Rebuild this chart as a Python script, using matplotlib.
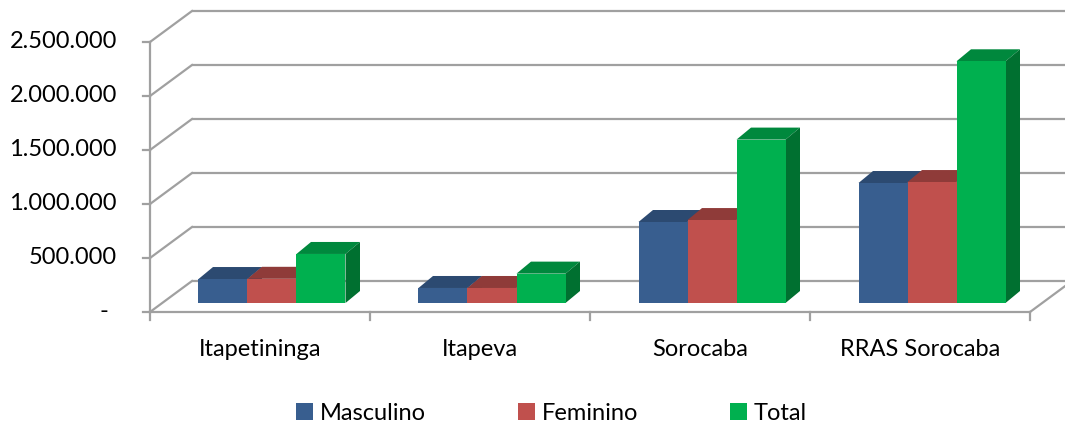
import matplotlib
matplotlib.use("Agg")
import matplotlib.pyplot as plt
from matplotlib.patches import Polygon, Patch

# --- data -------------------------------------------------------------
categories = ["Itapetininga", "Itapeva", "Sorocaba", "RRAS Sorocaba"]
series_names = ["Masculino", "Feminino", "Total"]
masculino = [222000, 139000, 750000, 1111000]
feminino = [224000, 139000, 768000, 1120000]
total = [454000, 272000, 1513000, 2238000]
y_ticks = [0, 500000, 1000000, 1500000, 2000000, 2500000]

series = [masculino, feminino, total]
front_colors = ["#385E8F", "#C0504D", "#00B04F"]
top_colors = ["#2C4A71", "#8F3B39", "#00883D"]
side_colors = ["#284468", "#7E3432", "#007030"]

# --- figure / axes (axes spans whole canvas, data units = categories / values)
W, H = 1065, 426
fig = plt.figure(figsize=(W / 100, H / 100), dpi=100)
ax = fig.add_axes([0, 0, 1, 1])
px_x = 1 / 220.0            # category units per pixel
px_y = 500000 / 54.0        # value units per pixel
ax.set_xlim(-0.5 - 150 * px_x, 3.5 + (W - 1030) * px_x)
ax.set_ylim(-(H - 312) * px_y, 312 * px_y)
ax.axis("off")

FONT = "Lato"
FS = 17
grid_c = "#A0A0A0"
lw = 1.6

# wall depth offset
DX, DY = 42 * px_x, 31 * px_y
x_left, x_right = -0.5, 3.5
ymax = y_ticks[-1]

# back wall gridlines and left wall diagonals
for v in y_ticks:
    ax.plot([x_left + DX, x_right + DX + 0.5], [v + DY, v + DY], color=grid_c, lw=lw,
            solid_capstyle="butt", zorder=1)
    ax.plot([x_left, x_left + DX], [v, v + DY], color=grid_c, lw=lw, zorder=1)
    # y tick marks
    ax.plot([x_left - 7 * px_x, x_left], [v, v], color=grid_c, lw=lw, zorder=1)
    label = "-" if v == 0 else f"{v:,}".replace(",", ".")
    ax.text(x_left - 33 * px_x if v else x_left - 42 * px_x, v, label,
            ha="right", va="center", fontsize=FS, family=FONT, color="#000000")

# left axis (front) and floor front edge / right diagonal
ax.plot([x_left, x_left], [0, ymax], color=grid_c, lw=lw, zorder=1)
ax.plot([x_left, x_right], [0, 0], color=grid_c, lw=lw, zorder=1)
ax.plot([x_right, x_right + DX], [0, DY], color=grid_c, lw=lw, zorder=1)
for k in range(len(categories) + 1):
    xt = x_left + k
    ax.plot([xt, xt], [0, -8 * px_y], color=grid_c, lw=lw, zorder=1)

# --- 3D-looking clustered bars --------------------------------------------
bw = 49 * px_x                       # bar width
bdx, bdy = 12 * px_x, 9 * px_y       # placement of bar front inside the floor
ddx, ddy = 14.5 * px_x, 12 * px_y    # bar depth
n = len(series)
z = 3
for i, cat in enumerate(categories):
    for s in range(n):
        v = series[s][i]
        x0 = i - n * bw / 2 + s * bw + bdx
        y0 = bdy
        ax.bar(x0, v, width=bw, bottom=y0, align="edge", color=front_colors[s],
               linewidth=0, zorder=z + 2)
        top = [(x0, y0 + v), (x0 + bw, y0 + v), (x0 + bw + ddx, y0 + v + ddy),
               (x0 + ddx, y0 + v + ddy)]
        ax.add_patch(Polygon(top, closed=True, facecolor=top_colors[s], lw=0, zorder=z + 1))
        side = [(x0 + bw, y0), (x0 + bw + ddx, y0 + ddy), (x0 + bw + ddx, y0 + v + ddy),
                (x0 + bw, y0 + v)]
        ax.add_patch(Polygon(side, closed=True, facecolor=side_colors[s], lw=0, zorder=z + 1))
        z += 3
    ax.text(i, -38 * px_y, cat, ha="center", va="center", fontsize=FS, family=FONT,
            color="#000000")

# --- legend -------------------------------------------------------------
handles = [Patch(facecolor=c, edgecolor="none") for c in front_colors]
fig.legend(handles, series_names, loc="center", bbox_to_anchor=(0.518, 1 - 413 / H),
           ncol=3, frameon=False, prop={"family": FONT, "size": FS},
           handlelength=0.7, handleheight=0.7, handletextpad=0.3, columnspacing=3.9)

fig.savefig("out.png", dpi=100)
